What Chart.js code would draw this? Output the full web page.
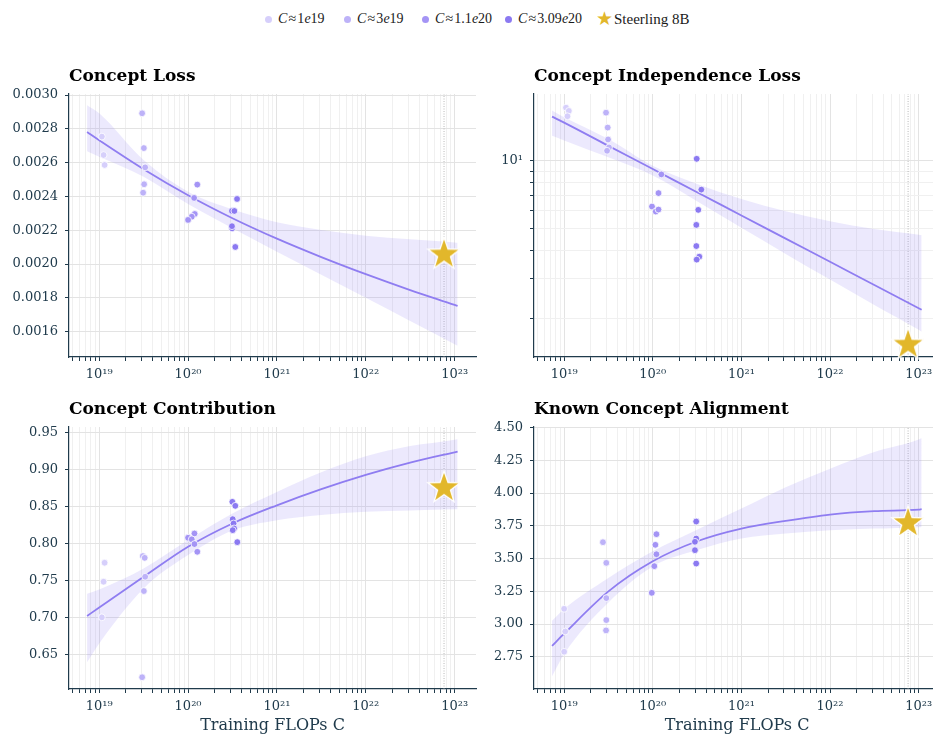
<!DOCTYPE html>
<html><head><meta charset="utf-8">
<script src="https://cdn.jsdelivr.net/npm/chart.js@4.4.1/dist/chart.umd.min.js"></script>
<style>
html,body{margin:0;padding:0;background:#fff;}
body{width:933px;height:735px;overflow:hidden;position:relative;}
canvas{position:absolute;}
#legend{position:absolute;top:9px;left:0;width:933px;height:20px;font-family:'Liberation Serif','DejaVu Serif',serif;font-size:14px;color:#1a1a1a;}
.item{position:absolute;top:0;line-height:20px;white-space:nowrap;}
.item.big{font-size:15px;}
.dot{position:absolute;width:7px;height:7px;border-radius:50%;top:7px;}
.star{position:absolute;top:-1px;font-family:'DejaVu Sans';font-size:19px;color:#e2b72b;line-height:20px;}
</style></head><body>
<div id="legend"></div>
<canvas id="c1" width="480" height="321" style="left:0;top:66px"></canvas>
<canvas id="c2" width="460" height="321" style="left:480px;top:66px"></canvas>
<canvas id="c3" width="480" height="336" style="left:0;top:399px"></canvas>
<canvas id="c4" width="460" height="336" style="left:480px;top:399px"></canvas>
<script>
// ---------- data ----------
const groupLabels = ['1e19', '3e19', '1.1e20', '3.09e20'];
const steerlingLabel = 'Steerling 8B';
const steerlingC = 7.6e22;
const panelTitles = ['Concept Loss', 'Concept Independence Loss', 'Concept Contribution', 'Known Concept Alignment'];
const xAxisTitle = 'Training FLOPs C';

// fit sample positions (training FLOPs)
const fitX = [7.3e18, 1e19, 3.16e19, 1e20, 3.16e20, 1e21, 3.16e21, 1e22, 3.16e22, 1e23, 1.08e23];

// Panel 1: Concept Loss
const loss_g1 = [[1.07e19,0.002754],[1.12e19,0.002645],[1.15e19,0.002586]];
const loss_g2 = [[3.04e19,0.002892],[3.18e19,0.002686],[3.29e19,0.002572],[3.2e19,0.002472],[3.12e19,0.002422]];
const loss_g3 = [[1.17e20,0.002391],[1.27e20,0.002470],[1.19e20,0.002296],[1.1e20,0.002280],[1.0e20,0.002261]];
const loss_g4 = [[3.56e20,0.002385],[3.12e20,0.002314],[3.32e20,0.002314],[3.13e20,0.002211],[3.12e20,0.002224],[3.4e20,0.002101]];
const loss_fit = [0.002781,0.002732,0.002561,0.002407,0.002271,0.002150,0.002041,0.001940,0.001846,0.001758,0.001752];
const loss_hi  = [0.002940,0.002892,0.002615,0.002428,0.002324,0.002247,0.002201,0.002168,0.002146,0.002128,0.002126];
const loss_lo  = [0.002668,0.002635,0.002517,0.002355,0.002212,0.002073,0.001936,0.001800,0.001663,0.001526,0.001517];
const loss_star = 0.002063;

// Panel 2: Concept Independence Loss (log y)
const indep_g1 = [[1.05e19,17.18],[1.13e19,16.62],[1.09e19,15.74]];
const indep_g2 = [[2.97e19,16.33],[3.1e19,14.03],[3.13e19,12.42],[3.21e19,11.45],[3.05e19,11.07]];
const indep_g3 = [[1.25e20,8.70],[1.16e20,7.19],[0.98e20,6.27],[1.08e20,5.96],[1.16e20,6.08]];
const indep_g4 = [[3.13e20,10.2],[3.53e20,7.45],[3.26e20,6.06],[3.1e20,5.20],[3.1e20,4.19],[3.35e20,3.76],[3.13e20,3.65]];
const indep_fit = [15.68,14.75,11.64,9.19,7.25,5.726,4.52,3.568,2.816,2.223,2.188];
const indep_hi  = [16.7,15.6,12.48,9.50,7.89,6.77,5.97,5.40,4.98,4.70,4.68];
const indep_lo  = [12.9,12.3,10.35,8.60,6.62,5.045,3.866,2.976,2.299,1.783,1.750];
const indep_star = 1.55;

// Panel 3: Concept Contribution
const contrib_g1 = [[1.15e19,0.7744],[1.12e19,0.7488],[1.07e19,0.7007]];
const contrib_g2 = [[3.1e19,0.7834],[3.25e19,0.781],[3.29e19,0.7555],[3.18e19,0.7362],[3.04e19,0.6199]];
const contrib_g3 = [[1.0e20,0.8081],[1.18e20,0.8139],[1.1e20,0.806],[1.18e20,0.7996],[1.27e20,0.7892]];
const contrib_g4 = [[3.15e20,0.8566],[3.4e20,0.8512],[3.18e20,0.8332],[3.25e20,0.8274],[3.3e20,0.8207],[3.18e20,0.8184],[3.58e20,0.8022]];
const contrib_fit = [0.7026,0.7140,0.7554,0.7960,0.8274,0.8519,0.8737,0.8930,0.9096,0.9234,0.9243];
const contrib_hi  = [0.7325,0.7384,0.7667,0.8050,0.8409,0.8700,0.8965,0.9180,0.9320,0.9405,0.9415];
const contrib_lo  = [0.6400,0.6654,0.7397,0.7847,0.8180,0.8319,0.8390,0.8431,0.8450,0.8465,0.8467];
const contrib_star = 0.8768;

// Panel 4: Known Concept Alignment
const align_g1 = [[1e19,3.116],[1.03e19,2.943],[1e19,2.788]];
const align_g2 = [[2.74e19,3.625],[2.99e19,3.467],[2.99e19,3.198],[2.99e19,3.030],[2.97e19,2.951]];
const align_g3 = [[1.1e20,3.686],[1.07e20,3.605],[1.1e20,3.533],[1.04e20,3.442],[0.975e20,3.238]];
const align_g4 = [[3.09e20,3.783],[3.09e20,3.653],[2.99e20,3.628],[2.99e20,3.564],[3.09e20,3.462]];
const align_fit = [2.833,2.926,3.249,3.479,3.632,3.729,3.788,3.836,3.862,3.874,3.877];
const align_hi  = [3.025,3.115,3.352,3.555,3.720,3.882,4.045,4.187,4.314,4.410,4.421];
const align_lo  = [2.600,2.771,3.165,3.440,3.565,3.653,3.691,3.717,3.729,3.740,3.742];
const align_star = 3.780;

// axis ranges / ticks
const xMin = 4.57e18, xMax = 1.74e23;
const yRanges = [[0.00145,0.003006],[1.352,19.75],[0.604,0.9576],[2.5035,4.505]];
const yStep = [0.0002, null, 0.05, 0.25];
const yDecimals = [4, 0, 2, 2];

// ---------- styles ----------
const groupColors = ['#d6cffb','#bdb2f8','#a494f5','#8b79f1'];
const lineColor = '#8f7df1';
const bandColor = 'rgba(150,132,246,0.18)';
const starColor = '#e2b72b';
const axisColor = '#203b4c';
const FONT = "'DejaVu Serif', serif";
Chart.defaults.font.family = FONT;
Chart.defaults.color = axisColor;

// legend (HTML)
const legend = document.getElementById('legend');
const dotX = [268, 347, 425, 508];
groupLabels.forEach((g, i) => {
  const d = document.createElement('div'); d.className = 'dot';
  d.style.left = (dotX[i] - 3.5) + 'px'; d.style.background = groupColors[i];
  legend.appendChild(d);
  const t = document.createElement('div'); t.className = 'item';
  t.style.left = (dotX[i] + 10) + 'px';
  t.innerHTML = '<i>C</i>\u200a\u2248\u200a' + g.replace('e', '<i>e</i>');
  legend.appendChild(t);
});
const st = document.createElement('div'); st.className = 'star'; st.style.left = '596px'; st.textContent = '\u2605';
legend.appendChild(st);
const stt = document.createElement('div'); stt.className = 'item big'; stt.style.left = '614px'; stt.textContent = steerlingLabel;
legend.appendChild(stt);

function makeStar(R) {
  const s = Math.ceil(2 * R + 4);
  const c = document.createElement('canvas'); c.width = s; c.height = s;
  const g = c.getContext('2d');
  g.beginPath();
  for (let i = 0; i < 10; i++) {
    const r = i % 2 ? R * 0.40 : R;
    const a = -Math.PI / 2 + i * Math.PI / 5;
    const px = s / 2 + r * Math.cos(a), py = s / 2 + R * 0.06 + r * Math.sin(a);
    i ? g.lineTo(px, py) : g.moveTo(px, py);
  }
  g.closePath();
  g.fillStyle = starColor; g.fill();
  g.lineWidth = 1.3; g.strokeStyle = '#ffffff'; g.stroke();
  return c;
}
const starImg = makeStar(17);

const SUP = '\u2070\u00b9\u00b2\u00b3\u2074\u2075\u2076\u2077\u2078\u2079';
const sup = n => String(n).split('').map(c => SUP[+c]).join('');
const isMajor = v => { const l = Math.log10(v); return Math.abs(l - Math.round(l)) < 1e-6; };
const isNice = v => { const e = Math.floor(Math.log10(v) + 1e-9); const s = v / Math.pow(10, e); return Math.abs(s - Math.round(s)) < 1e-6; };

function pts(arr) { return arr.map(p => ({x: p[0], y: p[1]})); }
function curve(ys) { return fitX.map((x, i) => ({x, y: ys[i]})); }

function makeChart(id, idx, groups, fit, hi, lo, starY, yW, xH, rightPad, showXTitle) {
  const [yMin, yMax] = yRanges[idx];
  const logY = idx === 1;
  const datasets = [
    {data: [{x: steerlingC, y: starY}], pointStyle: starImg, pointRadius: 17, clip: false, order: 0},
    ...groups.map((g, i) => ({data: pts(g), backgroundColor: groupColors[i], borderColor: '#ffffff', borderWidth: 0.8, pointRadius: 3.4, order: 4 - i})),
    {data: curve(fit), showLine: true, borderColor: lineColor, borderWidth: 1.8, pointRadius: 0, cubicInterpolationMode: 'monotone', order: 6},
    {data: curve(lo), showLine: true, borderWidth: 0, borderColor: 'rgba(0,0,0,0)', pointRadius: 0, fill: false, cubicInterpolationMode: 'monotone', order: 8},
    {data: curve(hi), showLine: true, borderWidth: 0, borderColor: 'rgba(0,0,0,0)', pointRadius: 0, fill: '-1', backgroundColor: bandColor, cubicInterpolationMode: 'monotone', order: 7},
    {data: [{x: steerlingC, y: yMin}, {x: steerlingC, y: yMax}], showLine: true, borderColor: 'rgba(150,150,150,0.55)', borderWidth: 1.2, borderDash: [1, 1.5], pointRadius: 0, order: 9}
  ];
  const yTicks = logY ? {
    autoSkip: false, padding: 7, font: {size: 13}, color: axisColor,
    callback: v => isMajor(v) ? '10' + sup(Math.round(Math.log10(v))) : ''
  } : {
    stepSize: yStep[idx], includeBounds: false, padding: 7, font: {size: 13}, color: axisColor,
    callback: v => v.toFixed(yDecimals[idx])
  };
  return new Chart(document.getElementById(id), {
    type: 'scatter',
    data: {datasets},
    options: {
      responsive: false, animation: false, devicePixelRatio: 1,
      layout: {autoPadding: false, padding: {left: 0, right: rightPad, top: 0, bottom: 0}},
      plugins: {
        legend: {display: false}, tooltip: {enabled: false},
        title: {display: true, text: panelTitles[idx], align: 'start', fullSize: false, color: '#000',
          font: {family: FONT, size: 17, weight: 'bold', lineHeight: 1.2}, padding: {top: 0, bottom: 7.6}}
      },
      scales: {
        x: {
          type: 'logarithmic', min: xMin, max: xMax,
          afterBuildTicks: s => { s.ticks = s.ticks.filter(t => isNice(t.value)); },
          afterFit: s => { s.height = xH; s.paddingLeft = 0; s.paddingRight = 0; },
          ticks: {autoSkip: false, maxRotation: 0, padding: 6, font: {size: 13}, color: axisColor,
            callback: v => isMajor(v) ? '10' + sup(Math.round(Math.log10(v))) : ''},
          grid: {color: c => isMajor(c.tick.value) ? '#e3e3e3' : '#f0f0f0', lineWidth: 1, tickColor: axisColor, tickLength: 4, drawTicks: true},
          border: {color: axisColor, width: 1.2},
          title: {display: showXTitle, text: xAxisTitle, font: {family: FONT, size: 16, lineHeight: 1.2}, color: axisColor, padding: {top: 0, bottom: 0}}
        },
        y: {
          type: logY ? 'logarithmic' : 'linear', min: yMin, max: yMax,
          afterBuildTicks: logY ? (s => { s.ticks = s.ticks.filter(t => isNice(t.value)); }) : undefined,
          afterFit: s => { s.width = yW; s.paddingTop = 0; s.paddingBottom = 0; },
          ticks: yTicks,
          grid: {color: c => (!logY || isMajor(c.tick.value)) ? '#e3e3e3' : '#f0f0f0', lineWidth: 1, tickColor: axisColor, tickLength: 4},
          border: {color: axisColor, width: 1.2}
        }
      }
    }
  });
}

makeChart('c1', 0, [loss_g1, loss_g2, loss_g3, loss_g4], loss_fit, loss_hi, loss_lo, loss_star, 69, 30, 4, false);
makeChart('c2', 1, [indep_g1, indep_g2, indep_g3, indep_g4], indep_fit, indep_hi, indep_lo, indep_star, 54, 30, 0, false);
makeChart('c3', 2, [contrib_g1, contrib_g2, contrib_g3, contrib_g4], contrib_fit, contrib_hi, contrib_lo, contrib_star, 69, 46, 4, true);
makeChart('c4', 3, [align_g1, align_g2, align_g3, align_g4], align_fit, align_hi, align_lo, align_star, 54, 46, 0, true);
</script>
</body></html>
